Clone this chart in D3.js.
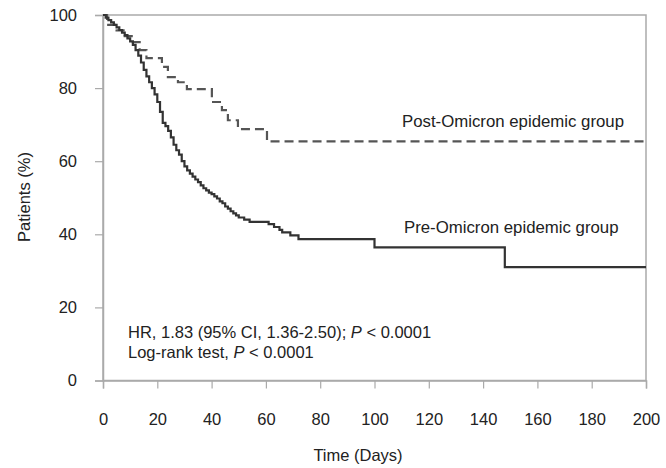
<!DOCTYPE html>
<html>
<head>
  <meta charset="utf-8">
  <title>Kaplan-Meier Omicron</title>
  <script src="https://cdn.jsdelivr.net/npm/d3@7"></script>
  <style>
    body { margin: 0; background: #fff; }
    svg { font-family: "Liberation Sans", Arial, sans-serif; }
  </style>
</head>
<body>
  <svg width="666" height="468"></svg>

  <script>
    // pre-Omicron group (solid)
    const preDays = [0, 1, 2, 3, 4, 5, 6, 7, 8, 9, 10, 11, 12, 13, 14, 15, 16, 17, 18, 19,
      20, 21, 22, 23, 24, 25, 26, 27, 28, 29, 30, 31, 32, 33, 34, 35, 36, 37, 38, 39,
      40, 41, 42, 43, 44, 45, 46, 47, 48, 49, 50, 52, 54, 61, 63, 65, 66, 69, 72, 100, 148, 200];
    const preSurv = [100, 99.3, 98.6, 98.0, 97.3, 96.6, 95.9, 95.2, 94.5, 93.6, 92.8, 91.8, 90.4, 88.9, 87.0, 85.0, 83.2, 81.6, 80.0, 78.3,
      76.2, 73.5, 70.5, 69.6, 68.3, 66.5, 64.5, 63.0, 61.8, 60.0, 58.6, 57.5, 56.6, 55.8, 55.0, 54.3, 53.4, 52.6, 52.0, 51.4,
      51.0, 50.4, 49.8, 49.0, 48.5, 47.6, 47.0, 46.3, 45.7, 45.2, 44.6, 44.0, 43.4, 42.8, 42.0, 41.2, 40.5, 39.7, 38.7, 36.4, 31.0, 31.0];

    // post-Omicron group (dashed)
    const postDays = [0, 1.5, 5, 8, 11, 13.5, 16, 21.7, 23.9, 27.6, 30.9, 40.1, 43.8, 46, 49.7, 60.4, 200];
    const postSurv = [100, 97.3, 95.8, 94.2, 92.6, 90.4, 88.2, 85.8, 83.0, 81.6, 79.7, 76.2, 74.0, 71.2, 68.8, 65.4, 65.4];

    const xTicks = [0, 20, 40, 60, 80, 100, 120, 140, 160, 180, 200];
    const yTicks = [0, 20, 40, 60, 80, 100];

    const svg = d3.select("svg");
    const margin = { top: 15, right: 20, bottom: 87.5, left: 103 };
    const width = 666 - margin.left - margin.right;
    const height = 468 - margin.top - margin.bottom;

    const g = svg.append("g")
      .attr("transform", `translate(${margin.left},${margin.top})`);

    const x = d3.scaleLinear().domain([0, 200]).range([0, width]);
    const y = d3.scaleLinear().domain([0, 100]).range([height, 0]);

    // frame
    g.append("rect")
      .attr("width", width).attr("height", height)
      .attr("fill", "none").attr("stroke", "#aaa").attr("stroke-width", 1.5);

    const xAxis = g.append("g")
      .attr("transform", `translate(0,${height})`)
      .call(d3.axisBottom(x).tickValues(xTicks).tickSize(8).tickPadding(25));
    const yAxis = g.append("g")
      .call(d3.axisLeft(y).tickValues(yTicks).tickSize(8).tickPadding(18));

    [xAxis, yAxis].forEach(a => {
      a.select(".domain").attr("stroke", "#aaa").attr("stroke-width", 1.5);
      a.selectAll(".tick line").attr("stroke", "#aaa").attr("stroke-width", 1.2);
      a.selectAll("text").attr("font-size", 16.5).attr("fill", "#222")
        .attr("font-family", "Liberation Sans, Arial, sans-serif");
    });

    const line = d3.line()
      .x(d => x(d[0]))
      .y(d => y(d[1]))
      .curve(d3.curveStepAfter);

    g.append("path")
      .datum(d3.zip(postDays, postSurv))
      .attr("fill", "none")
      .attr("stroke", "#555")
      .attr("stroke-width", 2.2)
      .attr("stroke-dasharray", "9,5")
      .attr("d", line);

    g.append("path")
      .datum(d3.zip(preDays, preSurv))
      .attr("fill", "none")
      .attr("stroke", "#333")
      .attr("stroke-width", 2.2)
      .attr("d", line);

    // group labels
    g.append("text").attr("x", 299).attr("y", 112)
      .attr("font-size", 16.8).attr("fill", "#222")
      .text("Post-Omicron epidemic group");
    g.append("text").attr("x", 301).attr("y", 218)
      .attr("font-size", 16.8).attr("fill", "#222")
      .text("Pre-Omicron epidemic group");

    // stats
    const stats = g.append("g").attr("font-size", 16.5).attr("fill", "#222");
    const t1 = stats.append("text").attr("x", 25).attr("y", 323);
    t1.append("tspan").text("HR, 1.83 (95% CI, 1.36-2.50); ");
    t1.append("tspan").attr("font-style", "italic").text("P");
    t1.append("tspan").text(" < 0.0001");
    const t2 = stats.append("text").attr("x", 25).attr("y", 343);
    t2.append("tspan").text("Log-rank test, ");
    t2.append("tspan").attr("font-style", "italic").text("P");
    t2.append("tspan").text(" < 0.0001");

    // axis titles
    svg.append("text")
      .attr("x", 358).attr("y", 461)
      .attr("text-anchor", "middle")
      .attr("font-size", 16.5).attr("fill", "#222")
      .text("Time (Days)");
    svg.append("text")
      .attr("transform", "translate(30,197) rotate(-90)")
      .attr("text-anchor", "middle")
      .attr("font-size", 16.5).attr("fill", "#222")
      .text("Patients (%)");
  </script>
</body>
</html>
